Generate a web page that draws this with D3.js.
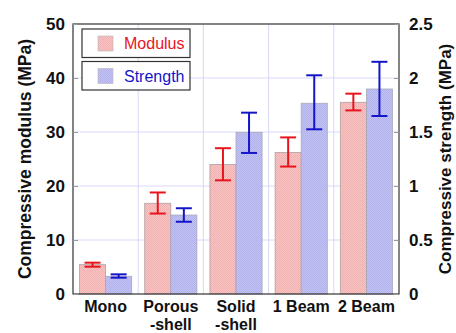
<!DOCTYPE html>
<html><head><meta charset="utf-8">
<script src="https://cdn.jsdelivr.net/npm/d3@7"></script>
<style>body{margin:0;background:#fff}svg{display:block}text{font-family:"Liberation Sans",Arial,sans-serif;font-weight:bold}</style>
</head><body>
<script>
const categories = [["Mono"], ["Porous", "-shell"], ["Solid", "-shell"], ["1 Beam"], ["2 Beam"]];
const modulus = [5.43, 16.8, 24.0, 26.2, 35.5];
const modulusLow = [5.06, 14.9, 21.05, 23.6, 34.0];
const modulusHigh = [5.8, 18.8, 27.0, 29.0, 37.1];
const strength = [0.164, 0.731, 1.497, 1.766, 1.898];
const strengthLow = [0.151, 0.669, 1.306, 1.525, 1.648];
const strengthHigh = [0.182, 0.794, 1.679, 2.025, 2.15];
const leftTicks = [0, 10, 20, 30, 40, 50];
const rightTicks = [0, 0.5, 1, 1.5, 2, 2.5];
const rightTickLabels = ["0", "0.5", "1", "1.5", "2", "2.5"];

const W = 456, H = 333;
const m = {l: 73, r: 57, t: 24, b: 39};
const svg = d3.select("body").append("svg").attr("width", W).attr("height", H);
const defs = svg.append("defs");
function pat(id, c1, c2) {
  const p = defs.append("pattern").attr("id", id).attr("width", 2).attr("height", 2).attr("patternUnits", "userSpaceOnUse");
  p.append("rect").attr("width", 2).attr("height", 2).attr("fill", c1);
  p.append("rect").attr("width", 1).attr("height", 1).attr("fill", c2);
  p.append("rect").attr("x", 1).attr("y", 1).attr("width", 1).attr("height", 1).attr("fill", c2);
}
pat("pr", "#f8c4c4", "#f0b0b0");
pat("pb", "#c4c4f4", "#b0b0ec");

const x = d3.scaleBand().domain(d3.range(categories.length)).range([m.l, W - m.r]).paddingInner(0).paddingOuter(0);
const yL = d3.scaleLinear().domain([0, 50]).range([H - m.b, m.t]);
const yR = d3.scaleLinear().domain([0, 2.5]).range([H - m.b, m.t]);
const bw = x.bandwidth();
const barW = bw * 0.4;
const off = (bw - barW * 2) / 2;

// grid
const g = svg.append("g");
leftTicks.slice(1, -1).forEach(t => g.append("line").attr("x1", m.l).attr("x2", W - m.r).attr("y1", yL(t)).attr("y2", yL(t)).attr("stroke", "#d8d8f8").attr("stroke-width", 1));
d3.range(1, categories.length).forEach(i => g.append("line").attr("x1", x(i)).attr("x2", x(i)).attr("y1", m.t).attr("y2", H - m.b).attr("stroke", "#d8d8f8").attr("stroke-width", 1));

// bars
const bars = svg.append("g");
bars.selectAll(".m").data(modulus).join("rect")
  .attr("x", (d, i) => x(i) + off).attr("width", barW)
  .attr("y", d => yL(d)).attr("height", d => yL(0) - yL(d))
  .attr("fill", "url(#pr)").attr("stroke", "#b0a0a0").attr("stroke-width", 0.8);
bars.selectAll(".s").data(strength).join("rect")
  .attr("x", (d, i) => x(i) + off + barW).attr("width", barW)
  .attr("y", d => yR(d)).attr("height", d => yR(0) - yR(d))
  .attr("fill", "url(#pb)").attr("stroke", "#a8a8b8").attr("stroke-width", 0.8);

// error bars
function err(lo, hi, scale, dx, col) {
  const e = svg.append("g").attr("stroke", col).attr("stroke-width", 2);
  lo.forEach((l, i) => {
    const cx = x(i) + off + dx + barW / 2;
    e.append("line").attr("x1", cx).attr("x2", cx).attr("y1", scale(l)).attr("y2", scale(hi[i]));
    e.append("line").attr("x1", cx - 8).attr("x2", cx + 8).attr("y1", scale(l)).attr("y2", scale(l));
    e.append("line").attr("x1", cx - 8).attr("x2", cx + 8).attr("y1", scale(hi[i])).attr("y2", scale(hi[i]));
  });
}
err(modulusLow, modulusHigh, yL, 0, "#e8141c");
err(strengthLow, strengthHigh, yR, barW, "#1414c8");

// frame
svg.append("rect").attr("x", m.l).attr("y", m.t).attr("width", W - m.l - m.r).attr("height", H - m.t - m.b)
  .attr("fill", "none").attr("stroke", "#333").attr("stroke-width", 1.2);

// axes
const axL = svg.append("g").attr("transform", `translate(${m.l},0)`)
  .call(d3.axisLeft(yL).tickValues(leftTicks).tickSize(-5).tickPadding(8).tickFormat(d3.format("d")));
const axR = svg.append("g").attr("transform", `translate(${W - m.r},0)`)
  .call(d3.axisRight(yR).tickValues(rightTicks).tickSize(-5).tickPadding(10).tickFormat((d, i) => rightTickLabels[i]));
[axL, axR].forEach(a => {
  a.select(".domain").remove();
  a.selectAll(".tick line").attr("stroke", "#999");
  a.selectAll(".tick text").attr("font-size", 17).attr("fill", "#111").style("font-family", "'Liberation Sans',Arial,sans-serif").style("font-weight", "bold");
});

// category labels
categories.forEach((lines, i) => {
  const t = svg.append("text").attr("x", x(i) + bw / 2).attr("y", 312).attr("text-anchor", "middle")
    .attr("font-size", 16).attr("fill", "#111");
  lines.forEach((s, j) => t.append("tspan").attr("x", x(i) + bw / 2).attr("dy", j ? 18 : 0).text(s));
});

// axis titles
svg.append("text").attr("transform", `translate(31,${(m.t + H - m.b) / 2}) rotate(-90)`).attr("text-anchor", "middle")
  .attr("font-size", 17.5).attr("fill", "#111").text("Compressive modulus (MPa)");
svg.append("text").attr("transform", `translate(451,${(m.t + H - m.b) / 2}) rotate(-90)`).attr("text-anchor", "middle")
  .attr("font-size", 17).attr("fill", "#111").text("Compressive strength (MPa)");

// legend
const leg = [["Modulus", "url(#pr)", "#e8141c"], ["Strength", "url(#pb)", "#1414c8"]];
leg.forEach((l, i) => {
  const y0 = 29 + i * 32.5;
  svg.append("rect").attr("x", 82).attr("y", y0).attr("width", 108).attr("height", 28.5).attr("fill", "#fff").attr("stroke", "#333").attr("stroke-width", 1.2);
  svg.append("rect").attr("x", 98).attr("y", y0 + 7).attr("width", 15).attr("height", 15).attr("fill", l[1]).attr("stroke", "#b8b8b8").attr("stroke-width", 0.6);
  svg.append("text").attr("x", 124).attr("y", y0 + 20).attr("font-size", 16).attr("fill", l[2]).style("font-weight", "normal").text(l[0]);
});
</script>
</body></html>
